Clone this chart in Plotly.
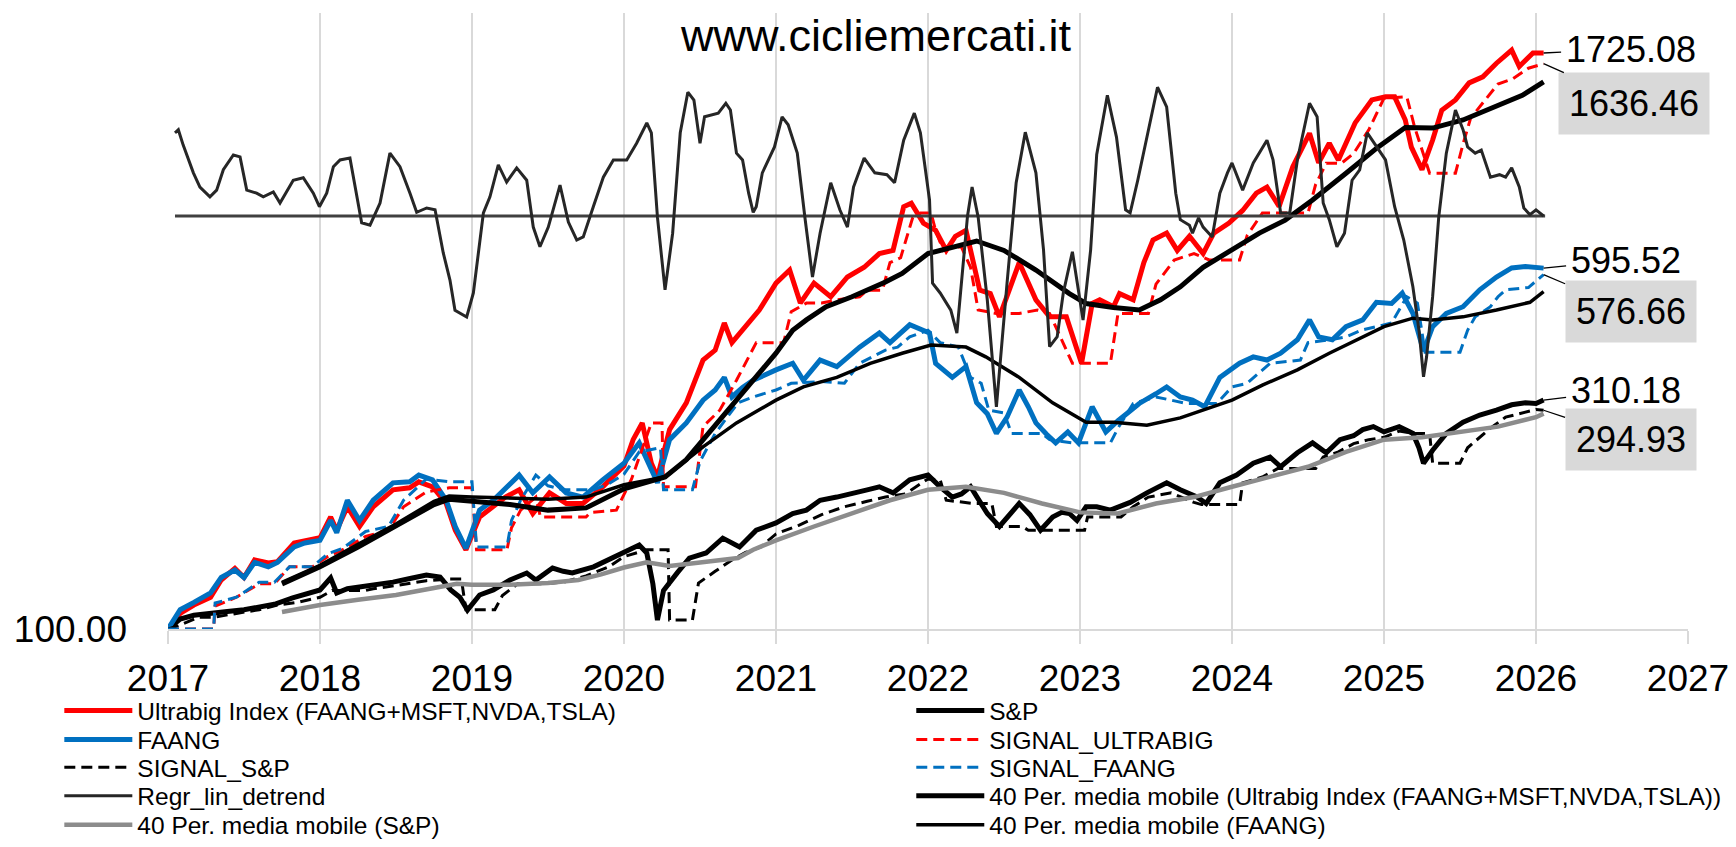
import math
import plotly.graph_objects as go

# ---------------- data (year fraction, value) ----------------
ultrabig = [(2017.0,100),(2017.08,108),(2017.17,112.6),(2017.28,117),(2017.35,127.4),(2017.44,135),(2017.5,129),
 (2017.57,140.7),(2017.66,138.6),(2017.72,139.5),(2017.83,153),(2017.9,155),(2018.0,157),(2018.07,174),(2018.11,163),
 (2018.18,183),(2018.26,166),(2018.35,183),(2018.48,199),(2018.59,201),(2018.65,207),(2018.74,202),(2018.83,186),
 (2018.89,163),(2018.96,148),(2019.05,174),(2019.14,183),(2019.22,192),(2019.31,199),(2019.4,177),(2019.51,196),
 (2019.62,186),(2019.73,186),(2019.86,202),(2020.0,224),(2020.06,255),(2020.12,277),(2020.18,227),(2020.22,212),
 (2020.3,268),(2020.41,306),(2020.52,378),(2020.6,397),(2020.66,454),(2020.71,412),(2020.8,446),(2020.89,484),
 (2021.0,553),(2021.09,590),(2021.16,501),(2021.25,553),(2021.36,517),(2021.47,570),(2021.58,598),(2021.68,640),
 (2021.77,650),(2021.84,807),(2021.89,821),(2021.97,744),(2022.05,718),(2022.12,650),(2022.18,697),(2022.25,718),
 (2022.34,534),(2022.41,525),(2022.47,468),(2022.6,612),(2022.71,509),(2022.8,468),(2022.91,468),(2023.01,372),
 (2023.08,500),(2023.13,509),(2023.22,492),(2023.26,525),(2023.35,509),(2023.42,612),(2023.48,684),(2023.57,708),
 (2023.64,650),(2023.72,697),(2023.81,640),(2023.88,708),(2023.98,744),(2024.07,792),(2024.16,863),(2024.23,889),
 (2024.31,808),(2024.4,983),(2024.51,1160),(2024.57,1002),(2024.64,1105),(2024.7,1016),(2024.81,1221),(2024.92,1368),
 (2025.01,1389),(2025.07,1389),(2025.14,1239),(2025.18,1083),(2025.25,969),(2025.32,1122),(2025.38,1300),(2025.47,1368),
 (2025.56,1488),(2025.65,1533),(2025.74,1640),(2025.84,1750),(2025.89,1614),(2025.98,1726),(2026.05,1725.08)]

sp = [(2017.0,100),(2017.08,105),(2017.17,107),(2017.25,107.5),(2017.39,109),(2017.5,110),(2017.6,111.5),(2017.7,113),
 (2017.82,116.6),(2017.92,119),(2018.0,121.3),(2018.07,128.7),(2018.11,119.5),(2018.18,122),(2018.26,123.1),(2018.35,124),
 (2018.48,126.1),(2018.6,128.5),(2018.7,130.6),(2018.79,129.3),(2018.86,121.3),(2018.92,117),(2018.97,109.8),(2019.05,118.3),
 (2019.14,121.3),(2019.25,127.4),(2019.36,131.9),(2019.42,127.4),(2019.53,135.2),(2019.6,133),(2019.66,131.9),(2019.8,136),
 (2019.9,141),(2020.0,145.6),(2020.1,151.5),(2020.15,145.6),(2020.19,125),(2020.22,104.5),(2020.26,121),(2020.35,132),
 (2020.43,142),(2020.54,145.6),(2020.65,156.7),(2020.76,150),(2020.87,163),(2021.0,169),(2021.11,177),(2021.2,180),
 (2021.29,189),(2021.4,192),(2021.5,196),(2021.6,199),(2021.68,202),(2021.77,196),(2021.88,209),(2022.0,214),(2022.08,202),
 (2022.16,192),(2022.22,195),(2022.28,202),(2022.34,188),(2022.39,177),(2022.47,166),(2022.53,175),(2022.6,186),(2022.67,176),
 (2022.74,163),(2022.82,174),(2022.88,178),(2022.93,177),(2022.98,171),(2023.04,183),(2023.11,183),(2023.2,180),(2023.28,184),
 (2023.33,187),(2023.44,196),(2023.57,206),(2023.66,199),(2023.77,192),(2023.83,186),(2023.92,206),(2024.03,214),(2024.14,227),
 (2024.25,234),(2024.32,223),(2024.43,239),(2024.53,251),(2024.62,239),(2024.71,255),(2024.8,260),(2024.86,268),(2024.93,272),
 (2025.0,265),(2025.1,272),(2025.19,263),(2025.23,245),(2025.26,227),(2025.32,242),(2025.41,263),(2025.52,278),(2025.63,288),
 (2025.74,295),(2025.84,303),(2025.93,306),(2026.0,305),(2026.05,310.18)]

faang = [(2017.0,100),(2017.08,110),(2017.17,114),(2017.28,119.5),(2017.35,129),(2017.44,133.8),(2017.5,129),(2017.57,139),
 (2017.66,136),(2017.72,139),(2017.83,150),(2017.9,153),(2018.0,155),(2018.07,171),(2018.11,161),(2018.18,189),(2018.26,171),
 (2018.35,189),(2018.48,206),(2018.59,207),(2018.65,214),(2018.74,209),(2018.83,189),(2018.89,166),(2018.96,149),(2019.05,180),
 (2019.14,189),(2019.22,200),(2019.31,214),(2019.4,196),(2019.51,212),(2019.62,196),(2019.73,192),(2019.86,209),(2020.0,227),
 (2020.1,251),(2020.18,220),(2020.22,206),(2020.3,255),(2020.41,277),(2020.52,310),(2020.6,326),(2020.66,347),(2020.71,315),
 (2020.78,330),(2020.85,342),(2021.0,360),(2021.11,372),(2021.18,342),(2021.29,378),(2021.4,366),(2021.48,385),(2021.55,403),
 (2021.68,432),(2021.75,412),(2021.88,450),(2022.01,432),(2022.05,372),(2022.16,347),(2022.25,366),(2022.32,306),(2022.39,290),
 (2022.45,263),(2022.52,285),(2022.6,326),(2022.66,300),(2022.71,277),(2022.78,262),(2022.84,251),(2022.92,265),(2022.99,251),
 (2023.08,300),(2023.17,265),(2023.25,280),(2023.39,305),(2023.5,320),(2023.57,331),(2023.66,315),(2023.74,310),(2023.82,300),
 (2023.92,347),(2024.05,372),(2024.14,384),(2024.23,378),(2024.32,391),(2024.43,418),(2024.51,461),(2024.57,424),(2024.66,418),
 (2024.75,446),(2024.86,461),(2024.95,503),(2025.05,500),(2025.12,526),(2025.19,476),(2025.26,395),(2025.32,446),(2025.41,476),
 (2025.52,492),(2025.63,535),(2025.74,570),(2025.84,596),(2025.93,600),(2026.05,595.52)]

signal_ultrabig = [(2017.0,100),(2017.3,100),(2017.31,112),(2017.45,117),(2017.6,125),(2017.7,125),(2017.8,136),(2017.95,136),
 (2018.05,143),(2018.15,148),(2018.3,158),(2018.45,163),(2018.55,183),(2018.7,197),(2018.85,201),(2019.0,201),(2019.03,148),
 (2019.23,148),(2019.26,165),(2019.32,180),(2019.42,192),(2019.45,174),(2019.75,174),(2019.78,178),(2019.95,180),(2020.05,210),
 (2020.18,277),(2020.25,277),(2020.26,202),(2020.47,202),(2020.52,272),(2020.63,295),(2020.74,342),(2020.85,403),(2020.87,412),
 (2021.05,412),(2021.1,480),(2021.2,501),(2021.3,501),(2021.4,509),(2021.55,517),(2021.6,534),(2021.7,534),(2021.75,612),
 (2021.82,627),(2021.9,766),(2021.95,782),(2022.02,782),(2022.05,718),(2022.1,650),(2022.15,661),(2022.22,661),(2022.28,598),
 (2022.33,484),(2022.45,476),(2022.6,476),(2022.72,484),(2022.8,476),(2022.95,372),(2023.2,372),(2023.25,476),(2023.45,476),
 (2023.5,550),(2023.62,620),(2023.75,640),(2023.85,620),(2024.05,620),(2024.1,700),(2024.2,782),(2024.5,782),(2024.55,900),
 (2024.62,1000),(2024.72,1000),(2024.8,1050),(2024.9,1180),(2025.0,1380),(2025.15,1390),(2025.2,1200),(2025.3,952),
 (2025.47,952),(2025.52,1100),(2025.57,1250),(2025.65,1350),(2025.75,1480),(2025.85,1520),(2025.95,1600),(2026.05,1636.46)]

signal_sp = [(2017.0,100),(2017.08,102),(2017.2,106),(2017.3,106),(2017.45,108),(2017.6,110),(2017.72,112.6),(2017.85,114),
 (2018.0,117),(2018.08,121),(2018.3,121),(2018.35,122),(2018.5,124),(2018.7,127),(2018.85,128),(2018.93,128),(2018.96,110),
 (2019.15,110),(2019.2,118),(2019.3,125),(2019.45,125),(2019.6,126),(2019.75,130),(2019.9,136),(2020.0,143),(2020.15,148),
 (2020.29,148),(2020.3,104.5),(2020.45,104.5),(2020.49,125.5),(2020.6,133),(2020.7,140),(2020.8,146),(2020.9,150),(2021.0,160),
 (2021.15,167),(2021.3,176),(2021.45,183),(2021.6,188),(2021.72,192),(2021.85,195),(2022.0,210),(2022.08,209),(2022.12,189),
 (2022.3,186),(2022.42,186),(2022.45,166),(2022.62,166),(2022.66,163),(2023.03,163),(2023.05,174),(2023.27,174),(2023.35,183),
 (2023.45,192),(2023.6,196),(2023.75,187),(2023.8,185),(2024.05,185),(2024.07,206),(2024.2,212),(2024.3,221),(2024.55,221),
 (2024.6,234),(2024.7,240),(2024.8,250),(2024.9,255),(2025.0,258),(2025.1,266),(2025.2,263),(2025.3,263),(2025.32,227),
 (2025.5,227),(2025.55,245),(2025.63,258),(2025.7,270),(2025.8,285),(2025.9,290),(2026.0,296),(2026.05,294.93)]

signal_faang = [(2017.0,100),(2017.3,100),(2017.31,113.7),(2017.45,117),(2017.6,126),(2017.7,126),(2017.8,136),(2017.95,136),
 (2018.05,145),(2018.15,149),(2018.3,162),(2018.45,166),(2018.55,189),(2018.7,210),(2018.85,207),(2019.0,207),(2019.03,150),
 (2019.23,150),(2019.26,171),(2019.32,189),(2019.42,214),(2019.5,203),(2019.6,199),(2019.8,199),(2019.9,205),(2020.0,215),
 (2020.1,240),(2020.24,245),(2020.26,199),(2020.45,199),(2020.5,229),(2020.6,263),(2020.75,306),(2020.85,315),(2021.0,326),
 (2021.1,337),(2021.3,340),(2021.45,337),(2021.55,372),(2021.72,397),(2021.8,403),(2021.88,424),(2022.0,438),(2022.08,412),
 (2022.2,403),(2022.28,347),(2022.35,337),(2022.4,295),(2022.5,291),(2022.55,263),(2022.75,263),(2022.8,255),(2022.95,251),
 (2023.2,251),(2023.25,270),(2023.35,305),(2023.5,315),(2023.7,305),(2023.9,305),(2024.0,331),(2024.1,337),(2024.25,372),
 (2024.45,378),(2024.5,412),(2024.65,418),(2024.75,424),(2024.85,438),(2024.95,446),(2025.05,454),(2025.15,517),(2025.22,501),
 (2025.27,393),(2025.5,393),(2025.55,438),(2025.6,468),(2025.7,492),(2025.75,517),(2025.8,535),(2025.95,541),(2026.05,576.66)]

detrend = [(2017.046,0.135),(2017.068,0.14),(2017.1,0.115),(2017.167,0.07),(2017.21,0.047),(2017.276,0.031),(2017.32,0.042),
 (2017.364,0.075),(2017.43,0.099),(2017.474,0.096),(2017.518,0.042),(2017.583,0.037),(2017.627,0.031),(2017.693,0.039),
 (2017.737,0.021),(2017.824,0.058),(2017.89,0.062),(2017.956,0.037),(2017.996,0.015),(2018.044,0.037),(2018.088,0.08),
 (2018.132,0.091),(2018.197,0.094),(2018.241,0.031),(2018.274,-0.011),(2018.329,-0.015),(2018.395,0.021),(2018.46,0.102),
 (2018.526,0.08),(2018.592,0.037),(2018.636,0.006),(2018.702,0.013),(2018.757,0.01),(2018.811,-0.06),(2018.855,-0.104),
 (2018.888,-0.153),(2018.965,-0.164),(2019.009,-0.125),(2019.075,0.005),(2019.118,0.031),(2019.173,0.083),(2019.228,0.055),
 (2019.294,0.078),(2019.36,0.058),(2019.403,-0.018),(2019.447,-0.05),(2019.502,-0.018),(2019.579,0.05),(2019.634,-0.01),
 (2019.689,-0.039),(2019.732,-0.034),(2019.798,0.015),(2019.864,0.063),(2019.93,0.091),(2020.018,0.091),(2020.083,0.118),
 (2020.15,0.151),(2020.18,0.135),(2020.22,-0.002),(2020.27,-0.12),(2020.32,-0.028),(2020.37,0.135),(2020.42,0.201),
 (2020.46,0.188),(2020.5,0.118),(2020.53,0.161),(2020.62,0.167),(2020.67,0.183),(2020.7,0.172),(2020.74,0.102),(2020.78,0.091),
 (2020.82,0.037),(2020.85,0.006),(2020.87,0.015),(2020.91,0.07),(2020.99,0.112),(2021.04,0.161),(2021.08,0.148),(2021.14,0.102),
 (2021.19,-0.002),(2021.24,-0.099),(2021.29,-0.028),(2021.36,0.054),(2021.42,0.01),(2021.47,-0.018),(2021.51,0.047),
 (2021.58,0.094),(2021.65,0.07),(2021.73,0.067),(2021.78,0.054),(2021.84,0.123),(2021.91,0.167),(2021.95,0.135),(2022.01,0.026),
 (2022.03,-0.109),(2022.08,-0.125),(2022.15,-0.153),(2022.19,-0.19),(2022.26,0.0),(2022.29,0.047),(2022.33,-0.002),
 (2022.39,-0.136),(2022.45,-0.31),(2022.52,-0.109),(2022.58,0.054),(2022.64,0.136),(2022.71,0.07),(2022.76,-0.055),
 (2022.8,-0.212),(2022.85,-0.196),(2022.89,-0.125),(2022.95,-0.058),(2022.99,-0.12),(2023.02,-0.169),(2023.07,-0.055),
 (2023.11,0.1),(2023.18,0.196),(2023.24,0.128),(2023.3,0.01),(2023.33,0.005),(2023.38,0.058),(2023.44,0.128),(2023.51,0.209),
 (2023.57,0.177),(2023.63,0.037),(2023.66,-0.006),(2023.72,-0.015),(2023.74,-0.028),(2023.78,-0.003),(2023.81,-0.018),
 (2023.87,-0.034),(2023.92,0.037),(2023.97,0.07),(2024.0,0.086),(2024.07,0.042),(2024.14,0.086),(2024.23,0.123),(2024.27,0.091),
 (2024.32,0.005),(2024.38,0.005),(2024.43,0.091),(2024.51,0.183),(2024.56,0.161),(2024.6,0.021),(2024.64,-0.006),(2024.69,-0.05),
 (2024.74,-0.028),(2024.79,0.058),(2024.84,0.075),(2024.89,0.135),(2024.95,0.112),(2025.01,0.091),(2025.07,0.015),
 (2025.13,-0.039),(2025.19,-0.115),(2025.23,-0.185),(2025.26,-0.261),(2025.28,-0.229),(2025.32,-0.131),(2025.36,-0.002),
 (2025.41,0.102),(2025.47,0.172),(2025.52,0.14),(2025.55,0.112),(2025.6,0.102),(2025.64,0.107),(2025.7,0.063),(2025.76,0.067),
 (2025.8,0.063),(2025.84,0.078),(2025.89,0.047),(2025.92,0.013),(2025.96,0.002),(2026.0,0.01),(2026.05,0.0)]

detrend_zero = [(2017.046,0.0),(2026.06,0.0)]

ma_ultrabig = [(2017.75,125),(2018.0,136),(2018.25,150),(2018.5,166),(2018.75,185),(2018.85,190),(2019.0,188),(2019.25,185),
 (2019.5,180),(2019.75,182),(2020.0,200),(2020.27,212),(2020.41,231),(2020.52,255),(2020.63,281),(2020.74,310),(2020.85,342),
 (2021.0,391),(2021.11,438),(2021.2,461),(2021.33,492),(2021.5,517),(2021.72,556),(2021.83,580),(2022.0,640),(2022.16,661),
 (2022.32,681),(2022.5,650),(2022.71,590),(2022.93,525),(2023.04,500),(2023.22,490),(2023.39,484),(2023.53,509),(2023.66,543),
 (2023.81,598),(2024.0,650),(2024.18,708),(2024.35,755),(2024.53,834),(2024.75,952),(2024.96,1083),(2025.14,1193),
 (2025.32,1190),(2025.52,1239),(2025.74,1324),(2025.91,1399),(2026.05,1495)]

ma_sp = [(2017.75,108.8),(2018.0,112.6),(2018.25,115.5),(2018.5,118.3),(2018.75,122.5),(2018.9,125),(2019.0,124.5),
 (2019.25,124.5),(2019.5,125.5),(2019.7,127.4),(2019.85,131),(2020.0,135.5),(2020.15,139),(2020.3,136.5),(2020.5,139),
 (2020.75,142),(2020.85,148),(2021.0,155),(2021.25,166),(2021.5,177),(2021.75,189),(2022.0,199),(2022.25,202),(2022.5,196),
 (2022.75,186),(2023.0,178),(2023.25,177),(2023.5,186),(2023.75,192),(2024.0,202),(2024.25,212),(2024.5,223),(2024.75,240),
 (2025.0,255),(2025.25,258),(2025.5,265),(2025.75,272),(2026.0,285),(2026.05,290)]

ma_faang = [(2017.75,126),(2018.0,137),(2018.25,152),(2018.5,168),(2018.75,188),(2018.85,193),(2019.0,192),(2019.25,191),
 (2019.5,190),(2019.75,192),(2020.0,204),(2020.27,212),(2020.52,246),(2020.74,277),(2021.0,310),(2021.18,331),(2021.4,347),
 (2021.62,372),(2021.83,391),(2022.02,407),(2022.25,403),(2022.38,384),(2022.6,347),(2022.82,306),(2023.04,278),(2023.22,278),
 (2023.44,274),(2023.66,284),(2023.88,300),(2024.0,310),(2024.2,334),(2024.43,360),(2024.64,391),(2024.86,424),(2025.0,446),
 (2025.19,465),(2025.32,461),(2025.52,468),(2025.74,484),(2025.96,503),(2026.05,530)]

year_ticks = [2017, 2018, 2019, 2020, 2021, 2022, 2023, 2024, 2025, 2026, 2027]
y_tick_vals = [100]
y_tick_text = ["100.00"]

# ---------------- figure ----------------
FONT = "Liberation Sans, Arial, sans-serif"
fig = go.Figure()

# legend slots: (column x in paper, row y in paper)
COL_X = [-0.0715, 0.4890]
ROW_Y = [-0.1326, -0.1794, -0.2244, -0.2710, -0.3177]
legend_layout = {}
slot_counter = [0]


def add(series, name, color, width, dash="solid", slot=None, yaxis="y"):
    t = [p[0] for p in series]
    v = [p[1] for p in series]
    kw = dict(showlegend=False)
    if slot is not None:
        slot_counter[0] += 1
        key = "legend" if slot_counter[0] == 1 else "legend%d" % slot_counter[0]
        col, row = slot
        legend_layout[key] = dict(x=COL_X[col], y=ROW_Y[row], xanchor="left", yanchor="middle",
                                  orientation="v", bgcolor="rgba(0,0,0,0)", borderwidth=0,
                                  itemwidth=68, font=dict(family=FONT, size=24.5, color="#000000"))
        kw = dict(showlegend=True, legend=key)
    fig.add_trace(go.Scatter(x=t, y=v, mode="lines", name=name, yaxis=yaxis, hoverinfo="skip",
                             line=dict(color=color, width=width, dash=dash), **kw))

DASH = "11px,6px"
add(ultrabig, "Ultrabig Index (FAANG+MSFT,NVDA,TSLA)", "#FF0000", 5, slot=(0, 0))
add(sp, "S&P", "#000000", 5, slot=(1, 0))
add(faang, "FAANG", "#0070C0", 5, slot=(0, 1))
add(signal_ultrabig, "SIGNAL_ULTRABIG", "#FF0000", 3, dash=DASH, slot=(1, 1))
add(signal_sp, "SIGNAL_S&P", "#000000", 3, dash=DASH, slot=(0, 2))
add(signal_faang, "SIGNAL_FAANG", "#0070C0", 3, dash=DASH, slot=(1, 2))
add(ma_ultrabig, "40 Per. media mobile (Ultrabig Index (FAANG+MSFT,NVDA,TSLA))", "#000000", 5, slot=(1, 3))
add(ma_sp, "40 Per. media mobile (S&P)", "#8C8C8C", 4.5, slot=(0, 4))
add(ma_faang, "40 Per. media mobile (FAANG)", "#000000", 3.5, slot=(1, 4))
add(detrend_zero, "zero", "#404040", 3, yaxis="y2")
add(detrend, "Regr_lin_detrend", "#262626", 3, slot=(0, 3), yaxis="y2")

annotations = [
    dict(text="www.cicliemercati.it", xref="paper", yref="paper", x=0.466, y=0.964,
         showarrow=False, font=dict(family=FONT, size=45, color="#000000"), xanchor="center", yanchor="middle"),
]

end_labels = [
    (ultrabig[-1], "1725.08", None, 87, -4),
    (signal_ultrabig[-1], "1636.46", "#D9D9D9", 90, 40),
    (faang[-1], "595.52", None, 82, -8),
    (signal_faang[-1], "576.66", "#D9D9D9", 87, 37),
    (sp[-1], "310.18", None, 82, -10),
    (signal_sp[-1], "294.93", "#D9D9D9", 87, 29),
]
for (pt, txt, bg, ax, ay) in end_labels:
    annotations.append(dict(x=pt[0], y=math.log10(pt[1]), xref="x", yref="y", text=txt,
                            showarrow=True, arrowhead=0, arrowwidth=1.3, arrowcolor="#000000",
                            ax=ax, ay=ay, font=dict(family=FONT, size=36, color="#000000"),
                            bgcolor=bg if bg else "rgba(0,0,0,0)", borderpad=10 if bg else 4,
                            xanchor="center", yanchor="middle"))

fig.update_layout(
    width=1736, height=847,
    margin=dict(l=168, r=48, t=13, b=218, autoexpand=False),
    paper_bgcolor="white", plot_bgcolor="white",
    font=dict(family=FONT, color="#000000"),
    xaxis=dict(range=[2017, 2027], tickvals=year_ticks, ticktext=[str(y) for y in year_ticks],
               showgrid=True, gridcolor="#D9D9D9", gridwidth=2, zeroline=False,
               showline=True, linecolor="#D9D9D9", linewidth=2,
               ticks="outside", ticklen=13, tickwidth=2, tickcolor="#D9D9D9", ticklabelstandoff=3,
               tickfont=dict(family=FONT, size=37, color="#000000")),
    yaxis=dict(type="log", range=[2, 3.3227], tickvals=y_tick_vals, ticktext=y_tick_text,
               showgrid=False, zeroline=False, ticks="", showline=False, ticklabelstandoff=40,
               tickfont=dict(family=FONT, size=37, color="#000000")),
    yaxis2=dict(overlaying="y", range=[-0.6705, 0.3295], visible=False),
    annotations=annotations,
    showlegend=True,
    **legend_layout,
)

fig.write_html("out.html", config={"displayModeBar": False},
               post_script="document.body.style.margin='0';document.body.style.overflow='hidden';")
